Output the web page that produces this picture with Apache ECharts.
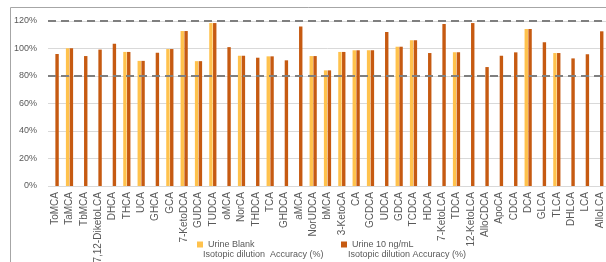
<!DOCTYPE html>
<html><head><meta charset="utf-8">
<script src="https://cdn.jsdelivr.net/npm/echarts@6/dist/echarts.min.js"></script>
<style>html,body{margin:0;padding:0;background:#fff}#c{width:606px;height:262px}</style>
</head><body><div id="c"></div>
<script>
const categories = ['ToMCA','TaMCA','TbMCA','7,12-DiketoLCA','DHCA','THCA','UCA','GHCA','GCA','7-KetoDCA','GUDCA','TUDCA','oMCA','NorCA','THDCA','TCA','GHDCA','aMCA','NorUDCA','bMCA','3-KetoCA','CA','GCDCA','UDCA','GDCA','TCDCA','HDCA','7-KetoLCA','TDCA','12-KetoLCA','AlloCDCA','ApoCA','CDCA','DCA','GLCA','TLCA','DHLCA','LCA','AlloLCA'];
const urineBlank = [null,100.2,null,null,null,97.5,91,null,99.6,112.7,90.8,118.5,null,94.8,null,94.3,null,null,94.5,84.1,97.5,98.7,98.7,null,101.3,106,null,null,97.2,null,null,null,null,114.2,null,96.7,null,null,null];
const urine10 = [96,100.2,94.5,99.2,103.5,97.5,91,97,99.6,112.7,90.8,118.5,101,94.8,93.3,94.3,91.4,116,94.5,84.1,97.5,98.7,98.7,112,101.3,106,96.7,117.8,97.2,118.5,86.5,94.8,97.2,114.2,104.5,96.7,92.8,95.8,112.5];
const yTicks = {min:0, max:120, interval:20};
const limitLines = [80, 120];
const seriesNames = ['Urine Blank', 'Urine 10 ng/mL'];
const subLabel = ['Isotopic dilution  Accuracy (%)', 'Isotopic dilution Accuracy (%)'];

const FONT = 'Liberation Sans, Arial, sans-serif';
const chart = echarts.init(document.getElementById('c'), null, {renderer:'canvas'});
chart.setOption({
  animation:false,
  backgroundColor:'#fff',
  grid:{left:48, top:21, width:559, height:165, containLabel:false, outerBoundsMode:'none'},
  legend:[
    {data:[seriesNames[0]], left:192, top:235, itemWidth:6, itemHeight:6, icon:'rect',
     textStyle:{fontSize:9, color:'#595959', fontFamily:FONT}},
    {data:[seriesNames[1]], left:336, top:235, itemWidth:6, itemHeight:6, icon:'rect',
     textStyle:{fontSize:9, color:'#595959', fontFamily:FONT}}
  ],
  graphic:[
    {type:'rect', shape:{x:10.5, y:7.5, width:700, height:400}, style:{fill:'none', stroke:'#A6A6A6', lineWidth:1}, silent:true, z:-1},
    {type:'text', left:203, top:250, style:{text:subLabel[0], fontSize:9, fill:'#595959', fontFamily:FONT}},
    {type:'text', left:348, top:250, style:{text:subLabel[1], fontSize:9, fill:'#595959', fontFamily:FONT}}
  ],
  xAxis:{type:'category', data:categories,
    axisLine:{show:false}, axisTick:{show:false},
    axisLabel:{interval:0, rotate:90, fontSize:10, color:'#595959', fontFamily:FONT, margin:6}},
  yAxis:{type:'value', min:yTicks.min, max:yTicks.max, interval:yTicks.interval,
    axisLine:{show:false}, axisTick:{show:false},
    axisLabel:{formatter:'{value}%', fontSize:9, color:'#595959', fontFamily:FONT, margin:11},
    splitLine:{lineStyle:{color:'#D9D9D9', width:1}}},
  series:[
    {name:seriesNames[0], type:'bar', data:urineBlank, barWidth:3.4, barGap:'12%',
     itemStyle:{color:'#FFC24D'}},
    {name:seriesNames[1], type:'bar', data:urine10, barWidth:3.4, barGap:'12%',
     itemStyle:{color:'#C65A11'},
     markLine:{silent:true, symbol:['none','none'], label:{show:false},
       lineStyle:{color:'#7F7F7F', width:2, type:[8,5]},
       data:limitLines.map(v=>({yAxis:v}))}}
  ]
});
</script></body></html>
